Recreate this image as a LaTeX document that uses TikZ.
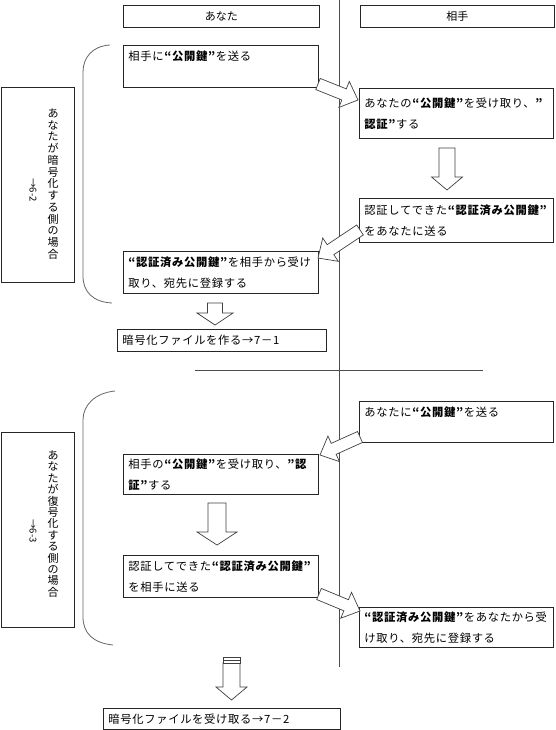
\documentclass[tikz,border=0pt]{standalone}
\usepackage{fontspec}
\setmainfont{Noto Sans CJK JP}
\newfontfamily\boxfont[LetterSpace=6]{Noto Sans CJK JP}
\usetikzlibrary{calc}
\tikzset{
  box/.style={draw=black!85, line width=0.8pt, anchor=north west, inner xsep=5pt, inner ysep=0pt, align=left, font=\boxfont\fontsize{11.3}{21}\selectfont},
  hdr/.style={draw=black!85, line width=0.8pt, anchor=north west, inner sep=0pt, align=center, font=\fontsize{11}{13}\selectfont},
  lab/.style={draw=black!85, line width=0.8pt, anchor=north west, inner sep=0pt, minimum width=73pt, minimum height=195pt},
  vcol/.style={inner sep=0pt, align=center},
  barr/.style={draw=black!75, line width=0.7pt, fill=white, line join=miter},
  rule/.style={draw=black!70, line width=1pt},
  brk/.style={draw=black!60, line width=0.8pt},
}
\newcommand{\bk}[1]{\textbf{#1}}
% block arrow: tail, tip, half shaft width, half head width, head length
\newcommand{\barrow}[5]{%
  \coordinate (hb) at ($(#2)!#5!(#1)$);
  \draw[barr] ($(#1)!#3!90:(#2)$) -- ($(hb)!#3!90:(#2)$) -- ($(hb)!#4!90:(#2)$) -- (#2)
    -- ($(hb)!#4!-90:(#2)$) -- ($(hb)!#3!-90:(#2)$) -- ($(#1)!#3!-90:(#2)$) -- cycle;}
\begin{document}
\begin{tikzpicture}[x=1pt,y=-1pt]
\useasboundingbox[fill=white] (0,0) rectangle (555,730);

% headers
\node[hdr, minimum width=196pt, minimum height=22pt] (hA) at (123,5) {あなた};
\node[hdr, minimum width=194pt, minimum height=22pt] (hB) at (360,5) {相手};

% separator lines
\coordinate (vtop) at (339,0);
\coordinate (vbot) at (339,667);
\coordinate (hl) at (195,370);
\coordinate (hr) at (483,370);
\draw[rule] (vtop) -- (vbot);
\draw[rule] (hl) -- (hr);

% brackets
\draw[brk] (110,45) .. controls (92,46) and (83,58) .. (83,72) -- (83,276) .. controls (83,292) and (93,302) .. (112,303);
\draw[brk] (115,391) .. controls (95,393) and (83,405) .. (83,420) -- (83,617) .. controls (83,633) and (93,643) .. (113,645);

% label boxes
\node[lab] (L1) at (0.5,87) {};
\node[vcol, font=\fontsize{11}{11.75}\selectfont] (L1t) at (53,184) {あ\\な\\た\\が\\暗\\号\\化\\す\\る\\側\\の\\場\\合};
\node[vcol, rotate=-90, font=\fontsize{9.5}{9.5}\selectfont] (L1n) at (33,190) {→6-2};
\node[lab] (L2) at (0.5,432) {};
\node[vcol, font=\fontsize{11}{11.4}\selectfont] (L2t) at (53,524) {あ\\な\\た\\が\\復\\号\\化\\す\\る\\側\\の\\場\\合};
\node[vcol, rotate=-90, font=\fontsize{9.5}{9.5}\selectfont] (L2n) at (33,531) {→6-3};

% boxes
\node[box, text width=185pt, minimum height=42pt] (b1) at (123,45) {相手に\bk{“公開鍵”}を送る\\\mbox{}};
\node[box, text width=184pt, minimum height=50pt] (b2) at (359,88) {あなたの\bk{“公開鍵”}を受け取り、\bk{”}\\\bk{認証”}する};
\node[box, text width=184pt, minimum height=44pt] (b3) at (359,198) {認証してできた\bk{“認証済み公開鍵”}\\をあなたに送る};
\node[box, text width=185pt, minimum height=42pt] (b4) at (123,251) {\bk{“認証済み公開鍵”}を相手から受け\\取り、宛先に登録する};
\node[box, text width=199pt, minimum height=22pt] (b5) at (117,329) {暗号化ファイルを作る→7－1};
\node[box, text width=184pt, minimum height=41pt] (b6) at (359,401) {あなたに\bk{“公開鍵”}を送る\\\mbox{}};
\node[box, text width=185pt, minimum height=40pt] (b7) at (123,454) {相手の\bk{“公開鍵”}を受け取り、\bk{”認}\\\bk{証”}する};
\node[box, text width=185pt, minimum height=42pt] (b8) at (123,555) {認証してできた\bk{“認証済み公開鍵”}\\を相手に送る};
\node[box, text width=184pt, minimum height=40pt] (b9) at (359,607) {\bk{“認証済み公開鍵”}をあなたから受\\け取り、宛先に登録する};
\node[box, text width=227pt, minimum height=21pt] (b10) at (103,708) {暗号化ファイルを受け取る→7－2};

% block arrows
\coordinate (a1s) at (318,84);   \coordinate (a1e) at (358,100);
\coordinate (a2s) at (447,148);  \coordinate (a2e) at (447,190);
\coordinate (a3s) at (360,230);  \coordinate (a3e) at (318,258);
\coordinate (a4s) at (215,303);  \coordinate (a4e) at (215,325);
\coordinate (a5s) at (360,437);  \coordinate (a5e) at (320,455);
\coordinate (a6s) at (217,503);  \coordinate (a6e) at (217,545);
\coordinate (a7s) at (319,594);  \coordinate (a7e) at (360,611);
\coordinate (a8s) at (231.5,663);\coordinate (a8e) at (231.5,700);
\barrow{a1s}{a1e}{6pt}{14pt}{15pt}
\barrow{a2s}{a2e}{8pt}{15.5pt}{13pt}
\barrow{a3s}{a3e}{6pt}{14pt}{15pt}
\barrow{a4s}{a4e}{7.5pt}{18pt}{12pt}
\barrow{a5s}{a5e}{6pt}{14pt}{15pt}
\barrow{a6s}{a6e}{9pt}{20pt}{13pt}
\barrow{a7s}{a7e}{6pt}{14pt}{15pt}
\barrow{a8s}{a8e}{8.5pt}{15.5pt}{13pt}
\draw[barr] (223,657) rectangle (240,663);
\draw[barr] (223,660) -- (240,660);
\end{tikzpicture}
\end{document}
